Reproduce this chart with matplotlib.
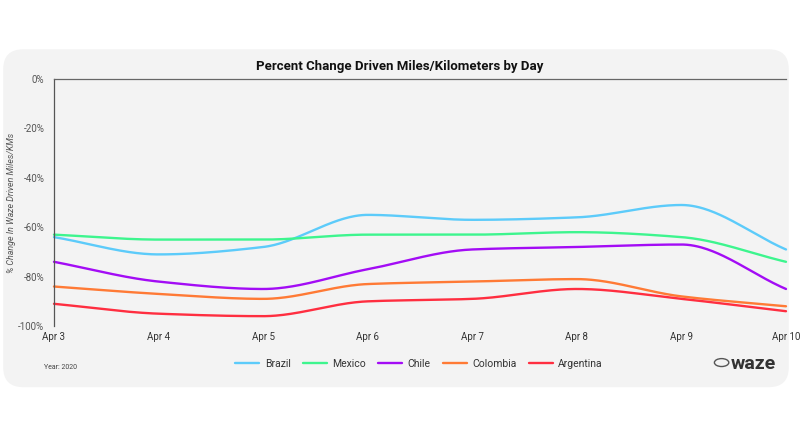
import numpy as np
import matplotlib
matplotlib.use("Agg")
import matplotlib.pyplot as plt
from matplotlib.patches import FancyBboxPatch, Circle

days = ["Apr 3", "Apr 4", "Apr 5", "Apr 6", "Apr 7", "Apr 8", "Apr 9", "Apr 10"]
brazil = [-64, -71, -68, -55, -57, -56, -51, -69]
mexico = [-63, -65, -65, -63, -63, -62, -64, -74]
chile = [-74, -82, -85, -77, -69, -68, -67, -85]
colombia = [-84, -87, -89, -83, -82, -81, -88, -92]
argentina = [-91, -95, -96, -90, -89, -85, -89, -94]

series = [("Brazil", brazil, "#5ccbfa"),
          ("Mexico", mexico, "#3df58e"),
          ("Chile", chile, "#a30cf5"),
          ("Colombia", colombia, "#ff7a35"),
          ("Argentina", argentina, "#ff2e40")]


def monotone(x, y, n=400):
    x = np.asarray(x, float); y = np.asarray(y, float)
    h = np.diff(x); d = np.diff(y) / h
    m = np.zeros_like(y)
    m[0] = d[0]; m[-1] = d[-1]
    for i in range(1, len(y) - 1):
        if d[i - 1] * d[i] <= 0:
            m[i] = 0
        else:
            w1 = 2 * h[i] + h[i - 1]; w2 = h[i] + 2 * h[i - 1]
            m[i] = (w1 + w2) / (w1 / d[i - 1] + w2 / d[i])
    xs = np.linspace(x[0], x[-1], n)
    idx = np.clip(np.searchsorted(x, xs) - 1, 0, len(x) - 2)
    t = (xs - x[idx]) / h[idx]
    h00 = 2 * t**3 - 3 * t**2 + 1; h10 = t**3 - 2 * t**2 + t
    h01 = -2 * t**3 + 3 * t**2; h11 = t**3 - t**2
    ys = h00 * y[idx] + h10 * h[idx] * m[idx] + h01 * y[idx + 1] + h11 * h[idx] * m[idx + 1]
    return xs, ys


plt.rcParams['font.family'] = ['Roboto', 'DejaVu Sans']
fig = plt.figure(figsize=(8, 4.4), dpi=100)
fig.patch.set_facecolor("white")
card = FancyBboxPatch((0.004, 0.12), 0.982, 0.768, boxstyle="round,pad=0,rounding_size=0.025",
                      transform=fig.transFigure, facecolor="#f3f3f3", edgecolor="none",
                      mutation_aspect=800 / 440, zorder=-5)
fig.patches.append(card)

ax = fig.add_axes([0.0675, 0.259, 0.915, 0.5614])
ax.set_facecolor("none")
x = np.arange(len(days))
for name, vals, col in series:
    xs, ys = monotone(x, vals)
    ax.plot(xs, ys, color=col, lw=1.7, label=name, solid_capstyle="round", clip_on=False)

ax.set_xlim(0, len(days) - 1)
ax.set_ylim(-100, 0)
ax.set_xticks(x)
ax.set_xticklabels(days, fontsize=7, color="#333333")
yt = [0, -20, -40, -60, -80, -100]
ax.set_yticks(yt)
ax.set_yticklabels([f"{v}%" for v in yt], fontsize=7, color="#555555")
ax.tick_params(axis="both", length=0, pad=4)
ax.tick_params(axis="y", pad=7)
for s in ["right", "bottom"]:
    ax.spines[s].set_visible(False)
ax.spines["left"].set_color("#555555")
ax.spines["top"].set_color("#666666")
ax.spines["left"].set_linewidth(0.9)
ax.spines["top"].set_linewidth(0.9)
fig.text(0.014, 0.54, "% Change In Waze Driven Miles/KMs", fontsize=6.4, style="italic",
         color="#555555", rotation=90, ha="center", va="center")

fig.text(0.5, 0.848, "Percent Change Driven Miles/Kilometers by Day", ha="center",
         va="center", fontsize=9.5, fontweight="bold", color="#111111")

leg = fig.legend(loc="center", bbox_to_anchor=(0.524, 0.173), ncol=5, frameon=False,
                 fontsize=7.5, handlelength=2.3, columnspacing=1.2, handletextpad=0.5)
for t in leg.get_texts():
    t.set_color("#333333")

fig.text(0.055, 0.165, "Year: 2020", fontsize=5, color="#444444", va="center")
fig.text(0.913, 0.172, "waze", fontsize=14, fontweight="bold", color="#333333",
         va="center", ha="left")
fig.patches.append(Circle((0.902, 0.176), 0.009, transform=fig.transFigure,
                          facecolor="none", edgecolor="#555555", lw=1.0))

fig.savefig("out.png", dpi=100, facecolor="white")
